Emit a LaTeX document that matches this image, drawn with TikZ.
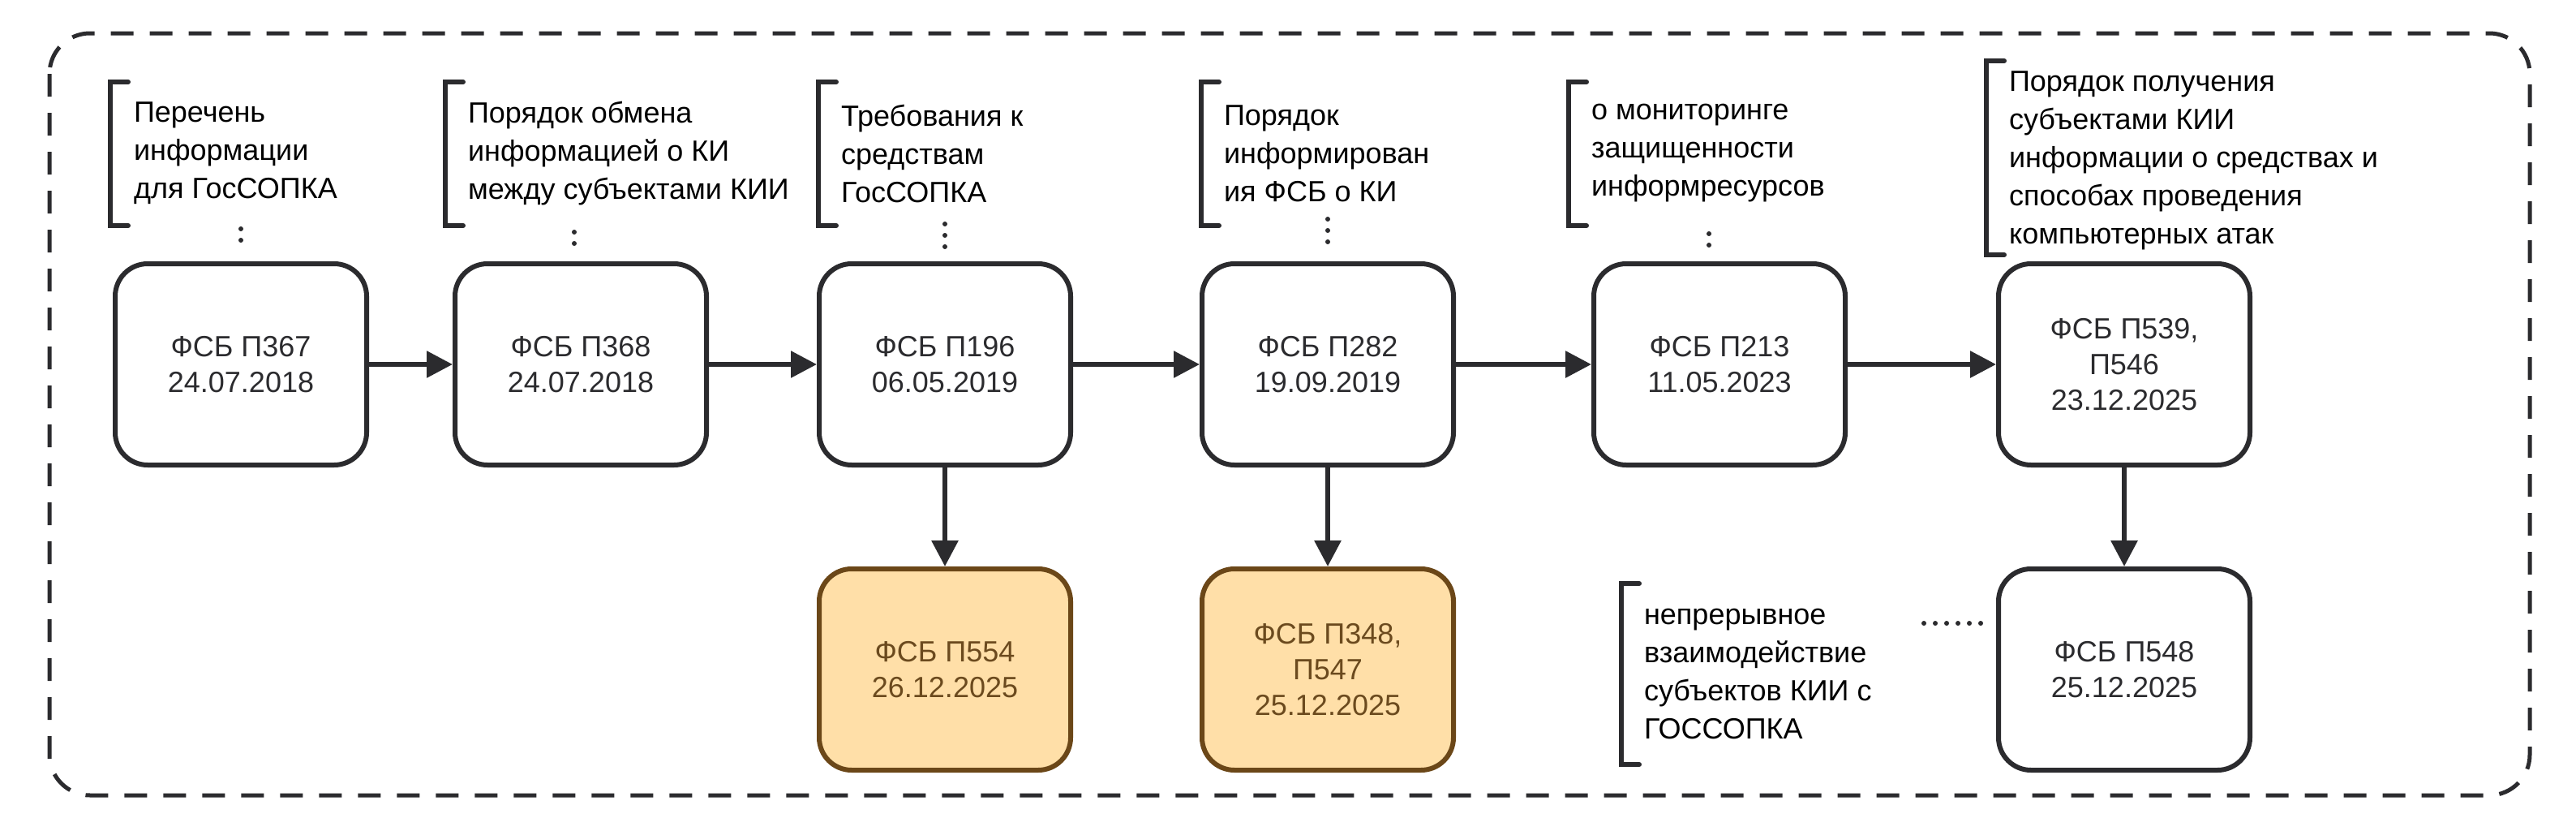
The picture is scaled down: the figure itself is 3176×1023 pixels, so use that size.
\documentclass[tikz,border=0pt]{standalone}
\usepackage{fontspec}
\setmainfont{Liberation Sans}
\usetikzlibrary{arrows.meta}
\definecolor{ink}{HTML}{2B2B2E}
\definecolor{ofill}{HTML}{FFDFA8}
\definecolor{obord}{HTML}{6B4718}
\definecolor{otext}{HTML}{6B4A1E}
\begin{document}
\begin{tikzpicture}[x=0.5pt,y=-0.5pt,
  box/.style={draw=ink,line width=3pt,rounded corners=20pt,minimum width=155pt,minimum height=124pt,align=center,text=ink,font=\fontsize{18}{22}\selectfont},
  obox/.style={box,fill=ofill,draw=obord,text=otext},
  ann/.style={anchor=west,align=left,text=black,font=\fontsize{18}{23.5}\selectfont},
  brk/.style={draw=ink,line width=3pt,line cap=round},
  arr/.style={draw=ink,line width=3pt,-{Triangle[length=16pt,width=16pt]}},
  dots/.style={draw=ink,line width=3pt,line cap=round,dash pattern=on 0pt off 7pt}]
\useasboundingbox (0,0) rectangle (3176,1023);
\draw[ink,line width=2.5pt,dash pattern=on 14pt off 10pt,rounded corners=25pt] (61,41) rectangle (3119,980);
% top row
\node[box] (b1) at (297,449) {ФСБ П367\\24.07.2018};
\node[box] (b2) at (716,449) {ФСБ П368\\24.07.2018};
\node[box] (b3) at (1165,449) {ФСБ П196\\06.05.2019};
\node[box] (b4) at (1637,449) {ФСБ П282\\19.09.2019};
\node[box] (b5) at (2120,449) {ФСБ П213\\11.05.2023};
\node[box] (b6) at (2619,449) {ФСБ П539,\\П546\\23.12.2025};
\node[obox] (b7) at (1165,825) {ФСБ П554\\26.12.2025};
\node[obox] (b8) at (1637,825) {ФСБ П348,\\П547\\25.12.2025};
\node[box] (b9) at (2619,825) {ФСБ П548\\25.12.2025};
\foreach \a/\b in {b1/b2,b2/b3,b3/b4,b4/b5,b5/b6,b3/b7,b4/b8,b6/b9} \draw[arr] (\a) -- (\b);
% annotations
\foreach \x/\t/\bt/\bb in {136/1/101/278, 549/2/101/278, 1009/3/101/278, 1481/4/101/278, 1934/5/101/278, 2449/6/75/314}
  \draw[brk] (\x+22,\bt) -- (\x,\bt) -- (\x,\bb) -- (\x+22,\bb);
\node[ann] (t1) at (158,189) {Перечень\\информации\\для ГосСОПКА};
\node[ann] (t2) at (570,189) {Порядок обмена\\информацией о КИ\\между субъектами КИИ};
\node[ann] (t3) at (1030,189) {Требования к\\средствам\\ГосСОПКА};
\node[ann] (t4) at (1502,189) {Порядок\\информирован\\ия ФСБ о КИ};
\node[ann] (t5) at (1955,189) {о мониторинге\\защищенности\\информресурсов};
\node[ann] (t6) at (2470,198) {Порядок получения\\субъектами КИИ\\информации о средствах и\\способах проведения\\компьютерных атак};
\draw[brk] (2021,719) -- (1999,719) -- (1999,942) -- (2021,942);
\node[ann] (t7) at (2020,830) {непрерывное\\взаимодействие\\субъектов КИИ с\\ГОССОПКА};
\coordinate (d1) at (297,282); \coordinate (d2) at (708,286); \coordinate (d3) at (1165,276);
\coordinate (d4) at (1637,270); \coordinate (d5) at (2107,288); \coordinate (d9) at (2372,768);
\draw[dots] (d1) -- (297,310);
\draw[dots] (d2) -- (708,312);
\draw[dots] (d3) -- (1165,310);
\draw[dots] (d4) -- (1637,308);
\draw[dots] (d5) -- (2107,312);
\draw[dots] (d9) -- (2450,768);
\end{tikzpicture}
\end{document}
